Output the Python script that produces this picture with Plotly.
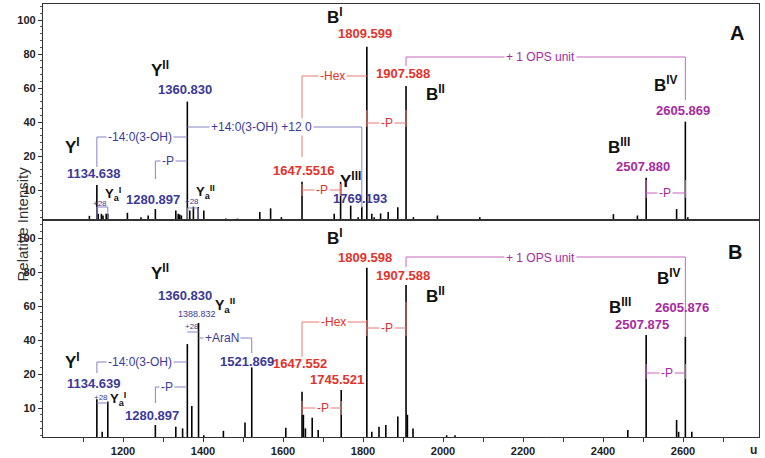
import plotly.graph_objects as go

# ---------------- data (m/z, relative intensity %) ----------------
mz_A = [1116, 1134.638, 1138, 1146, 1150, 1158, 1162, 1211, 1245, 1263, 1280.897,
        1332, 1338, 1342, 1346, 1360.830, 1367, 1376, 1388, 1402, 1457, 1486,
        1542, 1569, 1596, 1647.5516, 1728, 1744, 1769.193, 1788, 1797, 1809.599,
        1822, 1828, 1844, 1863, 1887, 1907.588, 1926, 1942, 1986, 2092,
        2426, 2486, 2507.880, 2584, 2605.869, 2612]
int_A = [2.4, 11.5, 3, 3, 2.5, 3, 3, 3.3, 2, 2.5, 4.4,
         4, 3, 2.8, 2.5, 52, 4, 5.1, 5, 4, 1.6, 1.6,
         3.5, 4.6, 2, 12.4, 3, 12.4, 5.4, 2, 5.1, 84.3,
         3, 2, 3.1, 3.5, 4.9, 61.2, 2, 1.5, 2.5, 2,
         2.9, 2.5, 13.6, 4.4, 40.2, 2]

mz_B = [1134.639, 1148, 1162, 1280.897, 1302, 1332, 1349, 1360.830, 1372, 1388.832,
        1402, 1451, 1505, 1521.869, 1607, 1647.552, 1651, 1656, 1673, 1688,
        1745.521, 1809.598, 1822, 1840, 1857, 1887, 1907.588, 1911, 1925,
        2009, 2030, 2266, 2462, 2507.875, 2584, 2589, 2605.876, 2622]
int_B = [12.6, 3, 11.9, 5, 1.5, 4.5, 4, 37.6, 10.6, 50,
         2, 3.3, 5.7, 23.9, 4.2, 14.8, 8, 4, 7.1, 3.5,
         15.3, 82.5, 3, 4.5, 5, 7.5, 72.4, 8, 4,
         2, 2, 1.5, 3.5, 43, 6.5, 3, 42, 3]

y_tick_values = [10, 20, 40, 60, 80, 100]
x_tick_values = list(range(1100, 2800, 100))
x_tick_labels = [str(v) if v % 200 == 0 else "" for v in x_tick_values]

# ---------------- helpers ----------------
FONT = "Liberation Sans, Arial, sans-serif"
W, H = 765, 458
X0, X1 = 43, 759          # plot area in px
MZ0, PXPU = 1000, 0.4     # m/z at left edge, px per unit

def fy(I):
    """Intensity axis with the 0-20 % region expanded (x2)."""
    return 3.4 * I if I <= 20 else 68 + 1.7 * (I - 20)

def px2m(px):
    return MZ0 + (px - X0) / PXPU

BASE = {"A": 224, "B": 442}

def fpy(panel, py):
    return BASE[panel] - py

def sticks(mz, inten):
    xs, ys = [], []
    for m, i in zip(mz, inten):
        xs += [m, m, None]
        ys += [0, fy(i), None]
    return xs, ys

BLUE_T, BLUE_L = "#3b3a98", "#8583c6"
RED_T, RED_L = "#e2322b", "#ea7b72"
MAG_T, MAG_L = "#a82a9f", "#c468bb"
BLK = "#111111"

fig = go.Figure()
for panel, mz, inten, xa, ya in (("A", mz_A, int_A, "x", "y"), ("B", mz_B, int_B, "x2", "y2")):
    xs, ys = sticks(mz, inten)
    fig.add_trace(go.Scatter(x=xs, y=ys, mode="lines", xaxis=xa, yaxis=ya,
                             line=dict(color="black", width=1.6), hoverinfo="skip",
                             showlegend=False))

# ---------------- brackets ----------------
def bracket(panel, pts, color):
    xa, ya = ("x", "y") if panel == "A" else ("x2", "y2")
    fig.add_trace(go.Scatter(x=[p[0] for p in pts], y=[fpy(panel, p[1]) for p in pts],
                             mode="lines", xaxis=xa, yaxis=ya, hoverinfo="skip",
                             line=dict(color=color, width=1), showlegend=False))

# panel A
bracket("A", [(1134.638, 167), (1134.638, 137), (1360.830, 137)], BLUE_L)
bracket("A", [(1280.897, 179), (1280.897, 161), (1360.830, 161)], BLUE_L)
bracket("A", [(1360.830, 127), (1797, 127), (1797, 208)], BLUE_L)
bracket("A", [(1134.638, 219), (1134.638, 207), (1162, 207), (1162, 219)], BLUE_L)
bracket("A", [(1360.830, 219), (1360.830, 208), (1388, 208), (1388, 219)], BLUE_L)
bracket("A", [(1647.5516, 157), (1647.5516, 76), (1809.599, 76)], RED_L)
bracket("A", [(1809.599, 110), (1809.599, 127)], RED_L)
bracket("A", [(1907.588, 110), (1907.588, 127)], RED_L)
bracket("A", [(1809.599, 123), (1907.588, 123)], RED_L)
bracket("A", [(1647.5516, 184), (1647.5516, 196)], RED_L)
bracket("A", [(1744, 184), (1744, 196)], RED_L)
bracket("A", [(1647.5516, 190), (1744, 190)], RED_L)
bracket("A", [(1907.588, 66), (1907.588, 57), (2605.869, 57), (2605.869, 100)], MAG_L)
bracket("A", [(2507.880, 180), (2507.880, 198)], MAG_L)
bracket("A", [(2605.869, 180), (2605.869, 198)], MAG_L)
bracket("A", [(2507.880, 193), (2605.869, 193)], MAG_L)

# panel B
bracket("B", [(1134.639, 373), (1134.639, 362), (1360.830, 362)], BLUE_L)
bracket("B", [(1280.897, 403), (1280.897, 387), (1360.830, 387)], BLUE_L)
bracket("B", [(1360.830, 332), (1388.832, 332)], BLUE_L)
bracket("B", [(1388.832, 338), (1521.869, 338), (1521.869, 353)], BLUE_L)
bracket("B", [(1134.639, 403), (1162, 403)], BLUE_L)
bracket("B", [(1647.552, 357), (1647.552, 322), (1809.598, 322)], RED_L)
bracket("B", [(1809.598, 320), (1809.598, 336)], RED_L)
bracket("B", [(1907.588, 302), (1907.588, 336)], RED_L)
bracket("B", [(1809.598, 328), (1907.588, 328)], RED_L)
bracket("B", [(1647.552, 401), (1647.552, 415)], RED_L)
bracket("B", [(1745.521, 401), (1745.521, 415)], RED_L)
bracket("B", [(1647.552, 408), (1745.521, 408)], RED_L)
bracket("B", [(1907.588, 267), (1907.588, 257), (2605.876, 257), (2605.876, 336)], MAG_L)
bracket("B", [(2507.875, 364), (2507.875, 379)], MAG_L)
bracket("B", [(2605.876, 364), (2605.876, 379)], MAG_L)
bracket("B", [(2507.875, 373), (2605.876, 373)], MAG_L)

# ---------------- labels ----------------
anns = []

def lab(panel, px, py, text, color, size, bold=True, bg=None):
    xa, ya = ("x", "y") if panel == "A" else ("x2", "y2")
    anns.append(dict(x=px2m(px), y=fpy(panel, py), xref=xa, yref=ya,
                     text=f"<b>{text}</b>" if bold else text, showarrow=False,
                     xanchor="center", yanchor="middle",
                     font=dict(family=FONT, size=size, color=color),
                     bgcolor=bg, borderpad=1))

NUM = 13
ION = 17
SM = 12
# Panel A
lab("A", 72, 146, "Y<sup>I</sup>", BLK, ION)
lab("A", 94, 173, "1134.638", BLUE_T, NUM)
lab("A", 160, 69, "Y<sup>II</sup>", BLK, ION)
lab("A", 185, 89, "1360.830", BLUE_T, NUM)
lab("A", 140, 137, "-14:0(3-OH)", BLUE_T, SM, False, "white")
lab("A", 168, 161, "-P", BLUE_T, SM, False, "white")
lab("A", 261, 127, "+14:0(3-OH) +12 0", BLUE_T, SM, False, "white")
lab("A", 100, 203, "+28", BLUE_T, 8, False)
lab("A", 113, 194, "Y<sub>a</sub><sup>I</sup>", BLK, 13)
lab("A", 153, 199, "1280.897", BLUE_T, NUM)
lab("A", 192, 201, "+28", BLUE_T, 8, False)
lab("A", 205, 192, "Y<sub>a</sub><sup>II</sup>", BLK, 13)
lab("A", 335, 16, "B<sup>I</sup>", BLK, ION)
lab("A", 365, 33, "1809.599", RED_T, NUM)
lab("A", 332, 76, "-Hex", RED_T, SM, False, "white")
lab("A", 403, 73, "1907.588", RED_T, NUM)
lab("A", 435, 93, "B<sup>II</sup>", BLK, ION)
lab("A", 387, 123, "-P", RED_T, SM, False, "white")
lab("A", 303, 170, "1647.5516", RED_T, NUM)
lab("A", 322, 190, "-P", RED_T, SM, False, "white")
lab("A", 350, 180, "Y<sup>III</sup>", BLK, ION)
lab("A", 360, 198, "1769.193", BLUE_T, NUM)
lab("A", 540, 57, "+ 1 OPS unit", MAG_T, SM, False, "white")
lab("A", 737, 33, "A", BLK, 20)
lab("A", 666, 84, "B<sup>IV</sup>", BLK, ION)
lab("A", 683, 110, "2605.869", MAG_T, NUM)
lab("A", 619, 146, "B<sup>III</sup>", BLK, ION)
lab("A", 643, 166, "2507.880", MAG_T, NUM)
lab("A", 665, 193, "-P", MAG_T, SM, False, "white")
# Panel B
lab("B", 72, 361, "Y<sup>I</sup>", BLK, ION)
lab("B", 94, 383, "1134.639", BLUE_T, NUM)
lab("B", 160, 272, "Y<sup>II</sup>", BLK, ION)
lab("B", 185, 295, "1360.830", BLUE_T, NUM)
lab("B", 197, 314, "1388.832", BLUE_T, 9, False)
lab("B", 225, 305, "Y<sub>a</sub><sup>II</sup>", BLK, 14)
lab("B", 192, 326, "+28", BLUE_T, 8, False)
lab("B", 222, 338, "+AraN", BLUE_T, SM, False, "white")
lab("B", 247, 361, "1521.869", BLUE_T, NUM)
lab("B", 140, 362, "-14:0(3-OH)", BLUE_T, SM, False, "white")
lab("B", 167, 387, "-P", BLUE_T, SM, False, "white")
lab("B", 101, 397, "+28", BLUE_T, 8, False)
lab("B", 118, 399, "Y<sub>a</sub><sup>I</sup>", BLK, 13)
lab("B", 152, 415, "1280.897", BLUE_T, NUM)
lab("B", 335, 237, "B<sup>I</sup>", BLK, ION)
lab("B", 365, 257, "1809.598", RED_T, NUM)
lab("B", 403, 275, "1907.588", RED_T, NUM)
lab("B", 435, 295, "B<sup>II</sup>", BLK, ION)
lab("B", 333, 322, "-Hex", RED_T, SM, False, "white")
lab("B", 387, 328, "-P", RED_T, SM, False, "white")
lab("B", 300, 363, "1647.552", RED_T, NUM)
lab("B", 337, 379, "1745.521", RED_T, NUM)
lab("B", 323, 408, "-P", RED_T, SM, False, "white")
lab("B", 540, 258, "+ 1 OPS unit", MAG_T, SM, False, "white")
lab("B", 735, 252, "B", BLK, 20)
lab("B", 669, 277, "B<sup>IV</sup>", BLK, ION)
lab("B", 682, 307, "2605.876", MAG_T, NUM)
lab("B", 620, 306, "B<sup>III</sup>", BLK, ION)
lab("B", 642, 324, "2507.875", MAG_T, NUM)
lab("B", 667, 373, "-P", MAG_T, SM, False, "white")

anns.append(dict(x=753 / W, y=1 - 450 / H, xref="paper", yref="paper", text="<b>u</b>",
                 xanchor="center", yanchor="middle",
                 showarrow=False, font=dict(family=FONT, size=12, color="#222")))
anns.append(dict(x=11 / W, y=1 - 224 / H, xref="paper", yref="paper", text="Relative Intensity",
                 textangle=-90, showarrow=False, font=dict(family=FONT, size=15, color="#333")))

# ---------------- axes ----------------
xdom = [X0 / W, X1 / W]
x_range = [MZ0, px2m(X1)]
yA_dom = [1 - 220 / H, 1 - 4 / H]
yB_dom = [1 - 437 / H, 1 - 220 / H]

yticks = dict(tickmode="array", tickvals=[fy(v) for v in y_tick_values],
              ticktext=[str(v) for v in y_tick_values], ticks="outside", ticklen=4,
              tickwidth=1, tickcolor="#333",
              tickfont=dict(family=FONT, size=11, color="#222", weight="bold"),
              minor=dict(tick0=0, dtick=3.4 * 2, ticks="outside", ticklen=2, tickcolor="#555"),
              showgrid=False, zeroline=False, showline=True, linecolor="#333", linewidth=1.2,
              mirror=True, fixedrange=True)

fig.update_layout(
    width=W, height=H, margin=dict(l=0, r=0, t=0, b=0),
    paper_bgcolor="white", plot_bgcolor="white", showlegend=False,
    xaxis=dict(domain=xdom, range=x_range, anchor="y", showticklabels=False, ticks="",
               showgrid=False, zeroline=False, showline=True, linecolor="#333", linewidth=1.2,
               mirror=True),
    yaxis=dict(domain=yA_dom, range=[fpy("A", 220), fpy("A", 4)], anchor="x", **yticks),
    xaxis2=dict(domain=xdom, range=x_range, anchor="y2", tickmode="array",
                tickvals=x_tick_values, ticktext=x_tick_labels, ticks="outside", ticklen=4,
                tickcolor="#333",
                tickfont=dict(family=FONT, size=11, color="#222", weight="bold"),
                showgrid=False, zeroline=False, showline=True, linecolor="#333", linewidth=1.2,
                mirror=True),
    yaxis2=dict(domain=yB_dom, range=[fpy("B", 437), fpy("B", 220)], anchor="x2", **yticks),
    annotations=anns,
)

fig.write_html("out.html", config={"displayModeBar": False},
               post_script="document.body.style.margin='0';document.body.style.overflow='hidden';")
